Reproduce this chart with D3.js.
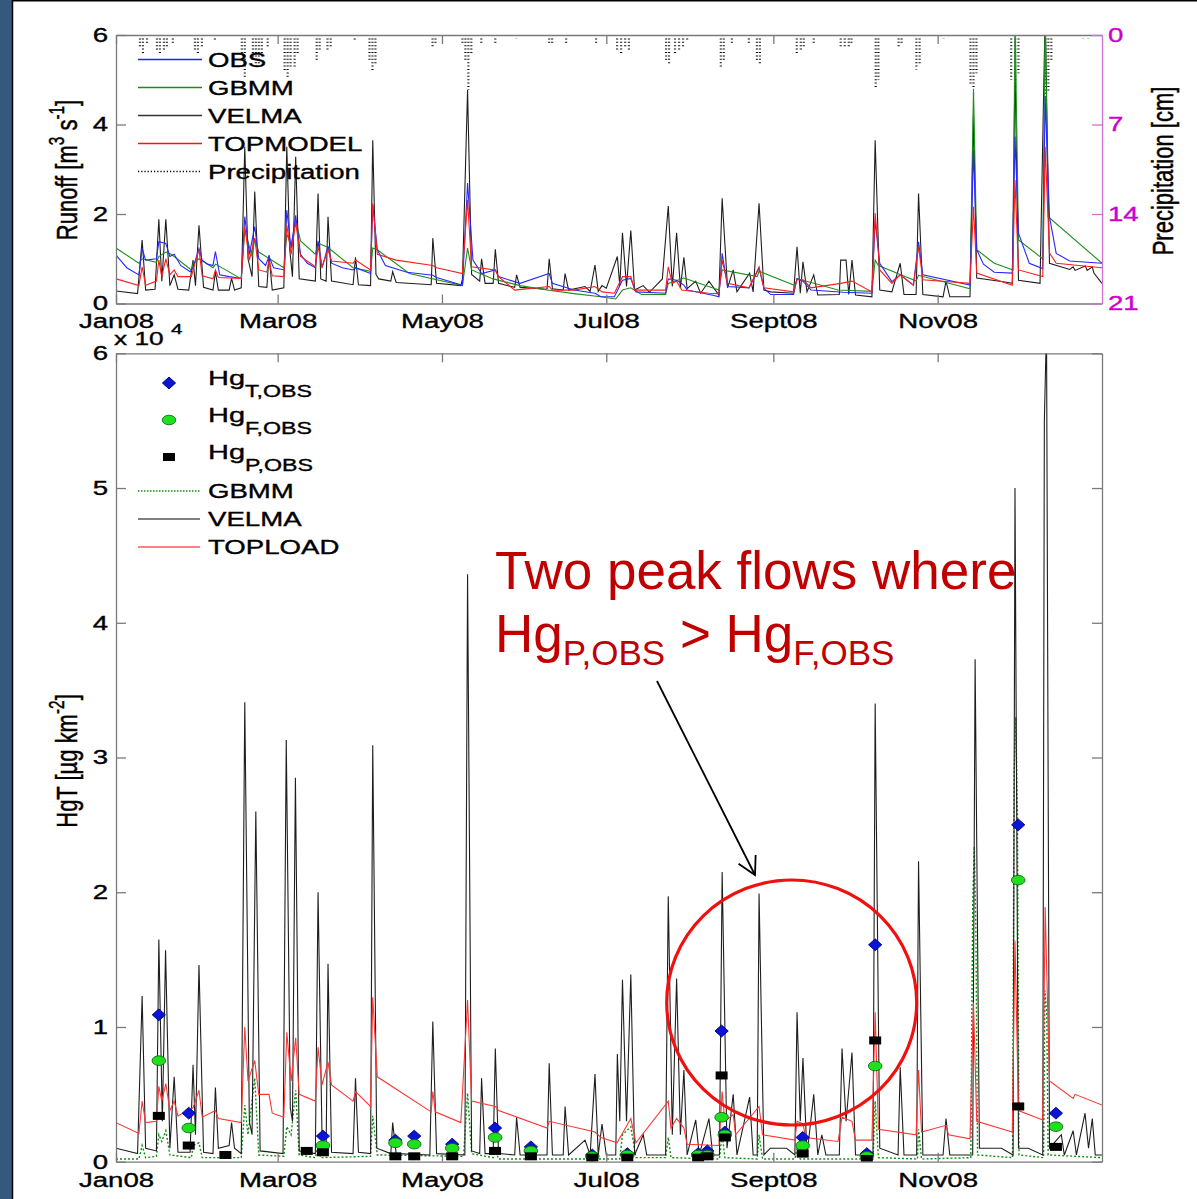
<!DOCTYPE html>
<html>
<head>
<meta charset="utf-8">
<script src="https://cdn.jsdelivr.net/npm/d3@7"></script>
<style>
body { margin: 0; background: #fff; }
svg text { font-family: "Liberation Sans", Arial, sans-serif; }
</style>
</head>
<body>
<svg id="chart" width="1197" height="1199"></svg>
<script>
//----------------------------------------------------------------------------------------------------------------------
// Data (day of 2008, value). Runoff in m3/s, precipitation in cm, Hg in units of 10^4 ug/km2
//----------------------------------------------------------------------------------------------------------------------
const monthDays = [0, 60, 121, 182, 244, 305];
const monthLabels = ["Jan08", "Mar08", "May08", "Jul08", "Sept08", "Nov08"];
const runoffTicks = [0, 2, 4, 6];
const precipTicks = [0, 7, 14, 21];
const hgTicks = [0, 1, 2, 3, 4, 5, 6];

const topLegend = ["OBS", "GBMM", "VELMA", "TOPMODEL", "Precipitation"];
const botLegend = ["T,OBS", "F,OBS", "P,OBS", "GBMM", "VELMA", "TOPLOAD"];

const precip = [
    [8.9,1.0],[10,1.4],[11.5,0.8],[15.2,1.2],[16.3,1.5],[17.8,1.3],[18.9,0.9],[21.1,0.8],
    [29.3,1.2],[30.4,1.5],[31.9,1.0],[36.7,0.5],[46.7,1.5],[47.8,3.3],[50.8,2.0],[51.9,2.5],
    [53,2.2],[54.1,1.5],[56.3,0.9],[62.6,2.8],[63.7,3.3],[64.8,2.5],[66.3,2.5],[67.4,1.5],
    [74.5,1.96],[75.6,1.3],[78.5,1.2],[79.7,1.0],[88.6,0.4],[94.1,2.0],[95.2,2.9],[96.3,2.2],
    [117.5,0.9],[118.6,0.6],[128.6,0.8],[129.7,2.0],[130.8,4.3],[131.9,1.5],[135.6,0.6],
    [140.8,0.7],[148.6,0.3],[160.8,0.8],[161.9,0.6],[167.1,0.6],[178.2,0.7],[186,1.2],
    [187.5,1.4],[189,1.0],[190.4,1.3],[204.2,2.0],[205.3,2.3],[207.5,1.4],[209,1.2],[210.5,1.0],
    [212,0.5],[224.5,2.6],[225.6,2.0],[228.6,0.8],[234.9,0.7],[237.9,2.0],[239,2.3],[252.7,1.4],
    [254.2,1.2],[255.3,0.9],[259,0.6],[269,0.9],[270.5,1.0],[272,0.9],[273,0.7],[282,4.1],
    [283,3.5],[290.5,1.0],[291.6,0.7],[297.1,2.7],[298.3,2.3],[307.2,0.3],[317.2,3.8],
    [318.3,4.1],[319.4,3.0],[332.3,3.5],[333.8,4.2],[335,3.0],[345,5.1],[346.1,4.5],[347.2,2.0],
    [359,0.3],[360.9,0.3]
];

const obsQ = [
    [0,1.08],[4,0.8],[8.5,0.64],[9.7,1.23],[11,0.97],[15,1.0],[15.9,1.38],[18.5,1.34],[20,1.05],[21.6,1.1],
    [24,0.85],[27.5,0.71],[28.6,0.8],[30.8,1.23],[32,0.97],[34,0.88],[36,0.85],[36.9,1.16],[38.5,0.64],[42,0.6],[46.5,0.56],
    [47.8,1.94],[49.5,1.1],[51.5,1.72],[53,1.0],[55.5,0.85],[56.8,1.05],[58.5,0.8],[62.5,0.75],
    [63.4,2.09],[65,1.23],[66.7,1.97],[68.5,1.1],[71,0.9],[74,0.8],[75,1.4],[76.5,0.8],[78.7,1.28],[80,0.9],[84,0.8],
    [88,0.75],[88.9,0.8],[94.5,0.67],[95.3,2.2],[97,1.2],[100,0.85],[108,0.7],[117.6,0.63],
    [119,0.58],[128.6,0.41],[130.5,2.69],[132.5,0.97],[135.7,0.67],[140.8,0.75],[142,0.6],
    [150,0.45],[160.8,0.67],[162,0.45],[170,0.3],[177.8,0.23],[180,0.15],[185,0.15],[188,0.52],
    [191.1,0.56],[193,0.26],[204,0.23],[205,0.55],[208.1,0.52],[210.8,0.41],[212,0.3],[222,0.18],
    [223.8,0.15],[225,1.12],[227,0.38],[235,0.35],[238.7,0.79],[240.5,0.34],[243,0.2],[251.5,0.2],
    [252.8,0.56],[255,0.5],[258,0.3],[270,0.25],[280.6,0.23],[281.8,1.87],[283.5,0.9],[288,0.49],
    [291.1,0.64],[296,0.41],[297.9,1.38],[299.5,0.64],[317,0.41],[318.3,3.43],[319.5,1.2],
    [322,0.88],[326,0.7],[332.7,0.68],[333.7,3.73],[335,1.57],[339,0.9],[344,0.78],[344.9,4.62],
    [346.5,1.94],[349,1.12],[354,0.95],[366,0.9]
];

const gbmmQ = [
    [0,1.24],[8.5,0.9],[9.7,1.0],[15,0.92],[15.9,1.05],[18.5,1.15],[20.5,1.1],[28,0.75],[28.6,0.9],
    [30.8,1.0],[36,0.8],[37,0.88],[46.5,0.55],[47.8,1.64],[50.5,1.05],[51.5,1.45],[53,1.15],
    [62.3,0.8],[63.4,1.55],[65,1.3],[66.7,1.86],[68.5,1.4],[74,1.1],[75,1.35],[78.7,1.25],[88,0.8],
    [94.5,0.72],[95.3,1.24],[97,1.2],[108.9,0.67],[128.6,0.4],[130.5,1.24],[132,0.75],[140,0.55],
    [150,0.4],[160,0.3],[170,0.22],[180,0.15],[185.5,0.1],[188,0.3],[191.1,0.35],[195,0.2],
    [204,0.2],[205,0.45],[210.8,0.57],[223.8,0.3],[225,0.75],[238,0.6],[238.7,0.72],[252,0.4],
    [252.8,0.55],[255,0.52],[268,0.3],[280.6,0.27],[281.8,0.97],[283,0.85],[297,0.5],[297.9,0.63],
    [317,0.33],[318.3,4.8],[319.5,1.2],[326,0.9],[333,0.75],[333.7,6.5],[335,1.42],[344,1.0],
    [344.9,6.5],[346,1.94],[366,0.9]
];

const velmaQ = [
    [0,0.28],[8,0.22],[9.7,1.42],[11,0.3],[14.5,0.32],[15.9,1.88],[17,0.5],[18.5,1.88],[20,0.4],
    [21.6,0.64],[23,0.32],[27,0.3],[28.6,0.97],[29.5,0.4],[30.8,1.75],[32.5,0.36],[36,0.3],
    [36.9,0.71],[38,0.3],[42,0.3],[42.9,0.56],[44,0.3],[46.5,0.35],[47.8,3.5],[49,1.0],[50.5,0.6],
    [51.5,2.5],[53,0.38],[56,0.36],[56.8,1.08],[58,0.3],[62.3,0.35],[63.4,3.5],[64.5,1.2],
    [65.5,0.6],[66.7,3.28],[68,0.55],[74,0.5],[75,2.46],[76,0.55],[78,0.5],[78.7,1.94],[80,0.5],
    [88,0.42],[88.9,1.03],[90,0.42],[94.5,0.4],[95.3,3.65],[96.5,0.65],[97.5,0.55],[102,0.5],
    [102.7,0.71],[104,0.47],[117,0.42],[117.6,1.46],[119,0.45],[128,0.4],[128.6,0.55],[130.5,4.77],
    [132,0.65],[135,0.5],[135.7,1.0],[137,0.45],[140,0.45],[140.8,1.21],[142,0.45],[148,0.36],
    [148.7,0.64],[150,0.36],[160,0.32],[160.8,1.0],[162,0.33],[166,0.3],[166.7,0.67],[168,0.3],
    [174.1,0.38],[176,0.27],[177.8,0.86],[179,0.27],[180.4,0.4],[182,0.34],[186.1,1.05],[187,0.4],
    [188,1.58],[189.5,0.38],[191.1,1.63],[192.5,0.3],[195.7,0.4],[198,0.25],[202.8,0.55],[205,2.18],
    [206.5,0.38],[208.1,1.58],[209.5,0.35],[210.8,1.03],[212,0.33],[215.2,0.5],[217,0.23],
    [220.1,0.5],[223.8,0.19],[225,2.35],[227,0.35],[229.1,0.75],[230.5,0.26],[235.2,0.68],
    [236.5,0.26],[238.7,2.24],[240.5,0.3],[243,0.26],[251.5,0.23],[252.8,1.27],[254,0.23],
    [255,0.93],[256.5,0.26],[259,0.64],[260.5,0.19],[268.5,0.2],[269,0.97],[271,0.97],[272,0.2],
    [273.2,0.97],[274.5,0.19],[280.6,0.15],[281.8,3.65],[283.5,0.3],[288,0.26],[291.1,0.9],
    [292.5,0.2],[297,0.2],[297.9,2.46],[299.5,0.2],[307,0.15],[308.1,0.5],[309.5,0.15],[317,0.15],
    [318.3,4.21],[319.5,0.57],[330,0.48],[332.7,0.45],[333.7,5.29],[335,0.52],[343,0.45],
    [344.9,6.5],[346.5,0.9],[354,0.76],[355.3,0.82],[356,0.74],[359.8,0.84],[360.5,0.74],
    [362.4,0.82],[363,0.68],[366,0.45]
];

const topmodelQ = [
    [0,0.55],[8.5,0.4],[9.7,0.82],[11,0.41],[15,0.5],[15.9,0.97],[17,0.6],[18.5,1.0],[20,0.64],
    [21.6,0.75],[23,0.6],[28,0.6],[28.6,0.75],[30.8,1.2],[32,0.62],[36,0.55],[36.9,0.75],[38,0.58],
    [46.5,0.56],[47.8,1.72],[49.5,0.97],[51.5,1.46],[53,0.75],[56,0.7],[56.8,0.97],[58,0.62],
    [62.3,0.6],[63.4,1.75],[65,1.1],[66.7,1.82],[68.5,1.05],[74,0.82],[75,1.28],[76.5,0.82],
    [78.7,1.2],[80,0.95],[88,0.9],[88.9,0.97],[94.5,0.75],[95.3,2.24],[97,1.1],[104,0.97],
    [117.6,0.85],[119,0.8],[128.6,0.67],[130.5,2.31],[132,0.82],[140.8,0.75],[142,0.6],[148,0.3],
    [160.8,0.38],[162,0.3],[170,0.3],[177.8,0.38],[180.4,0.26],[185,0.23],[188,0.6],[191.1,0.6],
    [192.5,0.3],[204,0.3],[205,0.82],[206.5,0.45],[208.1,0.5],[210,0.3],[220,0.23],[223.8,0.22],
    [225,0.97],[227,0.45],[235,0.35],[238.7,0.82],[240.5,0.35],[251.5,0.26],[252.8,0.53],
    [255,0.53],[258,0.35],[269,0.45],[273.2,0.5],[280.6,0.26],[281.8,2.02],[283.5,0.75],[288,0.45],
    [291.1,0.64],[296,0.41],[297.9,1.27],[299.5,0.53],[317,0.45],[318.3,2.16],[319.5,0.68],
    [332.7,0.41],[333.7,2.76],[335,0.75],[344,0.6],[344.9,3.5],[346.5,1.13],[349,0.9],[366,0.8]
];

const gbmmHg = [
    [0,0.02],[8.5,0.02],[9.7,0.12],[11,0.03],[15,0.04],[15.9,0.2],[17,0.15],[18.5,0.23],[20,0.05],
    [28,0.03],[28.6,0.12],[30.8,0.14],[32,0.03],[46.5,0.03],[47.8,0.42],[49,0.2],[51.5,0.62],
    [53,0.05],[62.3,0.04],[63.4,0.26],[65,0.2],[66.7,0.53],[68,0.05],[74,0.03],[75,0.12],[76,0.03],
    [94.5,0.04],[95.3,0.34],[97,0.05],[129,0.04],[130.5,0.51],[132,0.06],[140,0.03],[140.8,0.09],
    [142,0.02],[187,0.02],[188,0.2],[191.1,0.26],[193,0.03],[204,0.03],[205,0.18],[206,0.03],
    [224,0.02],[225,0.21],[226,0.03],[238,0.02],[238.7,0.2],[240,0.02],[252,0.02],[252.8,0.1],
    [254,0.02],[281,0.02],[281.8,0.45],[283,0.03],[297.5,0.02],[297.9,0.24],[299,0.02],
    [317.3,0.03],[318,1.9],[318.6,2.34],[319.2,1.7],[319.8,0.05],[332.8,0.03],[333.4,2.9],
    [334,3.3],[334.6,2.6],[335.2,0.05],[344.3,0.03],[344.8,1.27],[345.5,1.1],[346,0.05],[366,0.03]
];

const velmaHg = [
    [0,0.10],[8,0.06],[9.7,1.23],[11,0.1],[15,0.08],[15.9,1.65],[17.2,0.3],[18.4,1.57],[20,0.1],
    [21.6,0.63],[23,0.07],[27.5,0.07],[28.6,0.72],[29.5,0.2],[30.8,1.46],[32.5,0.07],[36,0.06],
    [36.9,0.55],[38,0.1],[42,0.12],[42.9,0.29],[44,0.1],[46.5,0.06],[47.8,3.41],[49.5,0.3],
    [50.5,0.2],[51.9,2.6],[53.5,0.08],[62,0.06],[63.2,3.13],[64.7,0.4],[65.5,0.3],[66.6,2.85],
    [68,0.08],[74,0.06],[75,2.0],[76.5,0.15],[78,0.1],[78.7,1.47],[80,0.07],[88,0.06],[88.9,0.62],
    [90,0.07],[94.5,0.06],[95.3,3.09],[96.8,0.1],[102,0.06],[102.7,0.29],[104,0.06],[116.5,0.05],
    [117.6,1.04],[119,0.06],[129.5,0.05],[130.5,4.36],[132,0.08],[135,0.06],[135.7,0.62],[137,0.06],
    [140,0.06],[140.8,0.84],[142,0.06],[148,0.05],[148.7,0.33],[150,0.05],[160,0.05],[160.8,0.73],
    [162,0.05],[166,0.05],[166.7,0.41],[168,0.05],[174.1,0.16],[176,0.05],[177.8,0.65],[179,0.05],
    [180.4,0.28],[182,0.05],[185.5,0.05],[186.1,0.8],[187,0.3],[188,1.35],[189.5,0.3],[191.1,1.39],
    [192.5,0.05],[195.7,0.2],[197,0.05],[204,0.05],[205,1.97],[206.5,0.2],[208.1,1.36],[209.5,0.2],
    [210.8,0.68],[212,0.05],[215.2,0.31],[216.5,0.05],[220.1,0.32],[221.5,0.05],[224,0.05],
    [225,2.15],[226.8,0.1],[229.1,0.5],[230.5,0.05],[235.2,0.48],[236.5,0.05],[238,0.05],
    [238.7,1.99],[240.5,0.05],[242.9,0.1],[248.9,0.1],[252,0.05],[252.8,1.11],[254,0.3],[255,0.77],
    [256.5,0.05],[259,0.5],[260.5,0.05],[262,0.2],[263.5,0.05],[268.5,0.05],[269.5,0.84],[271,0.3],
    [273.2,0.81],[274.5,0.05],[281,0.05],[281.8,3.4],[283.5,0.1],[290.3,0.05],[291.1,0.7],
    [292.5,0.05],[297.2,0.05],[297.9,2.23],[299.5,0.05],[307,0.05],[308.1,0.32],[309.5,0.05],
    [318,0.05],[318.9,3.73],[320.5,0.1],[328.7,0.1],[333,0.05],[333.7,5.0],[335,0.1],[338.6,0.1],
    [344,0.05],[344.6,5.5],[345.4,6.2],[346.5,0.1],[350.9,0.2],[352,0.05],[355.3,0.23],[356.5,0.05],
    [359.7,0.36],[361,0.1],[362.4,0.32],[363.5,0.05],[366,0.05]
];

const toploadHg = [
    [0,0.29],[8.5,0.21],[9.7,0.45],[11,0.29],[15,0.3],[15.9,0.56],[17,0.45],[18.5,0.58],[20,0.38],
    [21.6,0.45],[23,0.34],[28.6,0.4],[30.8,0.53],[32,0.33],[36.9,0.38],[38,0.32],[46.5,0.29],
    [47.8,1.0],[49,0.6],[51.5,0.75],[53,0.5],[56.8,0.5],[58,0.36],[62.3,0.33],[63.4,0.96],[65,0.6],
    [66.7,0.92],[68,0.5],[74,0.45],[75,0.85],[76.5,0.57],[78.7,0.74],[80,0.57],[88,0.45],
    [88.9,0.52],[94.5,0.41],[95.3,1.22],[97,0.63],[117,0.37],[117.6,0.52],[118.5,0.37],[128,0.29],
    [130.5,1.2],[132,0.45],[140.8,0.41],[142,0.38],[160,0.25],[160.8,0.3],[177.8,0.22],[180,0.18],
    [186,0.14],[191.1,0.32],[193,0.14],[205,0.45],[206,0.25],[208.1,0.32],[210.8,0.25],[212,0.13],
    [223.8,0.12],[225,0.52],[226,0.3],[229.1,0.35],[230,0.2],[238.7,0.41],[240,0.2],[252,0.16],
    [252.8,0.3],[255,0.28],[256,0.18],[268,0.15],[269.5,0.33],[273.2,0.3],[274.5,0.16],[280.6,0.16],
    [281.8,1.11],[283,0.24],[297,0.2],[297.9,0.68],[299,0.22],[308.1,0.27],[309,0.2],[317,0.17],
    [318.3,1.18],[319.5,0.3],[332.7,0.22],[333.7,1.64],[335,0.38],[344,0.31],[344.9,1.89],
    [346.5,0.6],[355.3,0.47],[356,0.5],[366,0.42]
];

const hgT = [
    [15.9,1.09],[27,0.36],[76.8,0.19],[103.7,0.16],[110.7,0.19],[124.8,0.13],[140.7,0.25],[154,0.11],
    [176.8,0.05],[189.8,0.06],[216.1,0.06],[219.5,0.08],[224.8,0.97],[226,0.22],[254.9,0.18],
    [278.7,0.06],[281.8,1.61],[334.9,2.5],[348.9,0.36]
];
const hgF = [
    [15.9,0.75],[27,0.25],[76.8,0.12],[103.7,0.14],[110.7,0.13],[124.8,0.1],[140.7,0.18],[154,0.08],
    [176.8,0.04],[189.8,0.05],[216.1,0.05],[219.5,0.05],[224.8,0.33],[226,0.2],[254.9,0.12],
    [278.7,0.04],[281.8,0.71],[334.9,2.09],[348.9,0.26]
];
const hgP = [
    [15.9,0.34],[27,0.12],[40.6,0.05],[70.8,0.08],[76.8,0.07],[103.7,0.04],[110.7,0.04],[124.8,0.04],
    [140.7,0.08],[154,0.04],[176.8,0.03],[189.8,0.03],[216.1,0.03],[219.5,0.04],[224.8,0.64],
    [226,0.18],[254.9,0.06],[278.7,0.02],[281.8,0.90],[334.9,0.41],[348.9,0.11]
];

//----------------------------------------------------------------------------------------------------------------------
// Layout
//----------------------------------------------------------------------------------------------------------------------
const svg = d3.select("#chart");
const SX = 1.38;          // the original figure was stretched horizontally
const grey = "#7a7a7a";
const magenta = "#cc00cc";

const x = d3.scaleLinear().domain([0, 366]).range([116, 1102]);
const yQ = d3.scaleLinear().domain([0, 6]).range([303.5, 35]);
const yP = d3.scaleLinear().domain([0, 21]).range([35, 303.5]);
const yHg = d3.scaleLinear().domain([0, 6]).range([1161.7, 353.3]);

svg.append("rect").attr("width", 1197).attr("height", 1199).attr("fill", "#fff");
svg.append("rect").attr("width", 12).attr("height", 1199).attr("fill", "#34587e");
svg.append("line").attr("x1", 12.5).attr("x2", 12.5).attr("y1", 0).attr("y2", 1199)
    .attr("stroke", "#000").attr("stroke-width", 1.5);
svg.append("line").attr("x1", 12).attr("x2", 1197).attr("y1", 0.8).attr("y2", 0.8)
    .attr("stroke", "#000").attr("stroke-width", 1.6);

const defs = svg.append("defs");
defs.append("clipPath").attr("id", "clipTop").append("rect")
    .attr("x", 116).attr("y", 35).attr("width", 986).attr("height", 268.5);
defs.append("clipPath").attr("id", "clipBot").append("rect")
    .attr("x", 116).attr("y", 353.3).attr("width", 986).attr("height", 808.4);

function richText(parent, x0, y0, parts, o) {
    const fill = o.fill || "#000";
    const t = parent.append("text")
        .attr("transform", "translate(" + x0 + "," + y0 + ") scale(" + (o.sx || 1) + ",1)" + (o.rot ? " rotate(" + o.rot + ")" : ""))
        .attr("font-size", o.size)
        .attr("fill", fill)
        .attr("stroke", o.heavy === false ? null : fill)
        .attr("stroke-width", o.heavy === false ? null : 0.35)
        .attr("text-anchor", o.anchor || "start");
    let shift = 0;
    parts.forEach(function(p) {
        const s = typeof p === "string" ? p : p[0];
        const kind = typeof p === "string" ? "" : p[1];
        let target = 0;
        if (kind === "sub") target = o.size * (o.subShift || 0.35);
        if (kind === "sup") target = -o.size * (o.supShift || 0.42);
        t.append("tspan").attr("dy", target - shift)
            .attr("font-size", kind ? o.size * (o.smallScale || 0.7) : o.size)
            .text(s);
        shift = target;
    });
    return t;
}

function stretchTicks(g, color) {
    g.attr("font-family", null).attr("font-size", 20);
    g.selectAll(".tick text").each(function() {
        const t = d3.select(this);
        t.attr("x", (+t.attr("x") || 0) / SX).attr("transform", "scale(" + SX + ",1)")
            .attr("fill", color || "#000").attr("stroke", color || "#000").attr("stroke-width", 0.35);
    });
}

function styleAxis(g, color) {
    g.select(".domain").attr("stroke", color).attr("stroke-width", 1.3);
    g.selectAll(".tick line").attr("stroke", color).attr("stroke-width", 1.3);
}

//----------------------------------------------------------------------------------------------------------------------
// Top panel: runoff and precipitation
//----------------------------------------------------------------------------------------------------------------------
const lineQ = d3.line().x(d => x(d[0])).y(d => yQ(d[1]));
const topPane = svg.append("g").attr("clip-path", "url(#clipTop)");

topPane.selectAll(".precip").data(precip).join("line")
    .attr("class", "precip")
    .attr("x1", d => x(d[0])).attr("x2", d => x(d[0]))
    .attr("y1", yP(0)).attr("y2", d => yP(d[1]))
    .attr("stroke", "#111").attr("stroke-width", 2.2).attr("stroke-dasharray", "1,2.4");

const topSeries = [
    {data: velmaQ, color: "#1e1e1e"},
    {data: gbmmQ, color: "#1f8f1f"},
    {data: obsQ, color: "#2828ff"},
    {data: topmodelQ, color: "#ff1c1c"}
];
topPane.selectAll(".q").data(topSeries).join("path")
    .attr("class", "q")
    .attr("d", d => lineQ(d.data))
    .attr("fill", "none").attr("stroke", d => d.color).attr("stroke-width", 1.1);

let g;
g = svg.append("g").attr("transform", "translate(116,0)")
    .call(d3.axisLeft(yQ).tickValues(runoffTicks).tickFormat(d3.format("d")).tickSizeInner(-10).tickSizeOuter(0).tickPadding(8));
styleAxis(g, grey); stretchTicks(g);
g = svg.append("g").attr("transform", "translate(0,303.5)")
    .call(d3.axisBottom(x).tickValues(monthDays).tickFormat((d, i) => monthLabels[i]).tickSizeInner(-9).tickSizeOuter(0).tickPadding(10));
styleAxis(g, grey); stretchTicks(g);
g = svg.append("g").attr("transform", "translate(0,35)")
    .call(d3.axisTop(x).tickValues(monthDays).tickFormat("").tickSizeInner(-9).tickSizeOuter(0));
styleAxis(g, grey);
g = svg.append("g").attr("transform", "translate(1102,0)")
    .call(d3.axisRight(yP).tickValues(precipTicks).tickFormat(d3.format("d")).tickSizeInner(-10).tickSizeOuter(0).tickPadding(6));
styleAxis(g, "#d070d0"); stretchTicks(g, magenta);

// legend
const topColors = ["#2020ff", "#1a8a1a", "#333", "#ff1010", "#000"];
topLegend.forEach(function(name, i) {
    const ly = 59.5 + i * 28;
    svg.append("line").attr("x1", 138).attr("x2", 202).attr("y1", ly).attr("y2", ly)
        .attr("stroke", topColors[i]).attr("stroke-width", 1.4)
        .attr("stroke-dasharray", i === 4 ? "1.2,2" : null);
    richText(svg, 208, ly + 7.2, [name], {size: 20, sx: SX});
});

richText(svg, 77, 170, ["Runoff [m", ["3", "sup"], " s", ["-1", "sup"], "]"], {size: 22, sx: SX, rot: -90, anchor: "middle"});
richText(svg, 1173, 171, ["Precipitation [cm]"], {size: 22, sx: SX, rot: -90, anchor: "middle"});

//----------------------------------------------------------------------------------------------------------------------
// Bottom panel: HgT
//----------------------------------------------------------------------------------------------------------------------
const lineHg = d3.line().x(d => x(d[0])).y(d => yHg(d[1]));
const botPane = svg.append("g").attr("clip-path", "url(#clipBot)");

botPane.append("path").attr("d", lineHg(gbmmHg))
    .attr("fill", "none").attr("stroke", "#119011").attr("stroke-width", 1.4).attr("stroke-dasharray", "2,2");
botPane.append("path").attr("d", lineHg(velmaHg))
    .attr("fill", "none").attr("stroke", "#1e1e1e").attr("stroke-width", 1.1);
botPane.append("path").attr("d", lineHg(toploadHg))
    .attr("fill", "none").attr("stroke", "#ff3535").attr("stroke-width", 1.1);

const diamond = d3.symbol(d3.symbolSquare, 70)();
botPane.selectAll(".hgT").data(hgT).join("path")
    .attr("class", "hgT").attr("d", diamond)
    .attr("transform", d => "translate(" + x(d[0]) + "," + yHg(d[1]) + ") scale(1.12,1) rotate(45)")
    .attr("fill", "#0a14d8").attr("stroke", "#00007a").attr("stroke-width", 0.8);
botPane.selectAll(".hgF").data(hgF).join("ellipse")
    .attr("class", "hgF").attr("cx", d => x(d[0])).attr("cy", d => yHg(d[1]))
    .attr("rx", 6.8).attr("ry", 4.8)
    .attr("fill", "#1fe01f").attr("stroke", "#0b5a0b").attr("stroke-width", 0.8);
botPane.selectAll(".hgP").data(hgP).join("rect")
    .attr("class", "hgP").attr("x", d => x(d[0]) - 6).attr("y", d => yHg(d[1]) - 4)
    .attr("width", 12).attr("height", 8).attr("fill", "#000");

g = svg.append("g").attr("transform", "translate(116,0)")
    .call(d3.axisLeft(yHg).tickValues(hgTicks).tickFormat(d3.format("d")).tickSizeInner(-10).tickSizeOuter(0).tickPadding(8));
styleAxis(g, grey); stretchTicks(g);
g = svg.append("g").attr("transform", "translate(1102,0)")
    .call(d3.axisRight(yHg).tickValues(hgTicks).tickFormat("").tickSizeInner(-10).tickSizeOuter(0));
styleAxis(g, grey);
g = svg.append("g").attr("transform", "translate(0,1161.7)")
    .call(d3.axisBottom(x).tickValues(monthDays).tickFormat((d, i) => monthLabels[i]).tickSizeInner(-9).tickSizeOuter(0).tickPadding(11));
styleAxis(g, grey); stretchTicks(g);
g = svg.append("g").attr("transform", "translate(0,353.3)")
    .call(d3.axisTop(x).tickValues(monthDays).tickFormat("").tickSizeInner(-9).tickSizeOuter(0));
styleAxis(g, grey);

richText(svg, 114, 345, ["x 10"], {size: 19, sx: SX});
richText(svg, 171, 334, ["4"], {size: 15, sx: SX});
richText(svg, 77, 761, ["HgT [\u00b5g km", ["-2", "sup"], "]"], {size: 22, sx: SX, rot: -90, anchor: "middle"});

// legend
const markLegendY = [383, 420, 457];
svg.append("path").attr("d", diamond)
    .attr("transform", "translate(169," + markLegendY[0] + ") scale(1.12,1) rotate(45)")
    .attr("fill", "#0a14d8").attr("stroke", "#00007a").attr("stroke-width", 0.8);
svg.append("ellipse").attr("cx", 169).attr("cy", markLegendY[1]).attr("rx", 6.8).attr("ry", 4.8)
    .attr("fill", "#1fe01f").attr("stroke", "#0b5a0b").attr("stroke-width", 0.8);
svg.append("rect").attr("x", 163).attr("y", markLegendY[2] - 4).attr("width", 12).attr("height", 8).attr("fill", "#000");
[0, 1, 2].forEach(function(i) {
    richText(svg, 208, markLegendY[i] + 2, ["Hg", [botLegend[i], "sub"]],
        {size: 21, sx: SX, subShift: 0.55, smallScale: 0.8});
});
const lineLegend = [
    {y: 491, color: "#119011", dash: "1.5,1.5"},
    {y: 519, color: "#555", dash: null},
    {y: 547, color: "#ff5a5a", dash: null}
];
lineLegend.forEach(function(l, i) {
    svg.append("line").attr("x1", 138).attr("x2", 200).attr("y1", l.y).attr("y2", l.y)
        .attr("stroke", l.color).attr("stroke-width", 1.3).attr("stroke-dasharray", l.dash);
    richText(svg, 208, l.y + 7.2, [botLegend[i + 3]], {size: 20, sx: SX});
});

//----------------------------------------------------------------------------------------------------------------------
// Annotation
//----------------------------------------------------------------------------------------------------------------------
const annoRed = "#c00000";
richText(svg, 495, 589, ["Two peak flows where"], {size: 53, fill: annoRed, heavy: false});
richText(svg, 495, 652, ["Hg", ["P,OBS", "sub"], " > Hg", ["F,OBS", "sub"]],
    {size: 53, fill: annoRed, heavy: false, subShift: 0.25, smallScale: 0.66});

const arrow = {x1: 657, y1: 681, x2: 755, y2: 875};
svg.append("line").attr("x1", arrow.x1).attr("y1", arrow.y1).attr("x2", arrow.x2).attr("y2", arrow.y2)
    .attr("stroke", "#000").attr("stroke-width", 1.8);
const ang = Math.atan2(arrow.y2 - arrow.y1, arrow.x2 - arrow.x1);
const head = [ang + Math.PI - 0.5, ang + Math.PI + 0.5].map(a => [arrow.x2 + 20 * Math.cos(a), arrow.y2 + 20 * Math.sin(a)]);
svg.append("path")
    .attr("d", "M" + head[0] + "L" + arrow.x2 + "," + arrow.y2 + "L" + head[1])
    .attr("fill", "none").attr("stroke", "#000").attr("stroke-width", 1.8);

svg.append("ellipse").attr("cx", 791.7).attr("cy", 1002.5).attr("rx", 125).attr("ry", 122.5)
    .attr("fill", "none").attr("stroke", "#f01010").attr("stroke-width", 3.2);
</script>
</body>
</html>
